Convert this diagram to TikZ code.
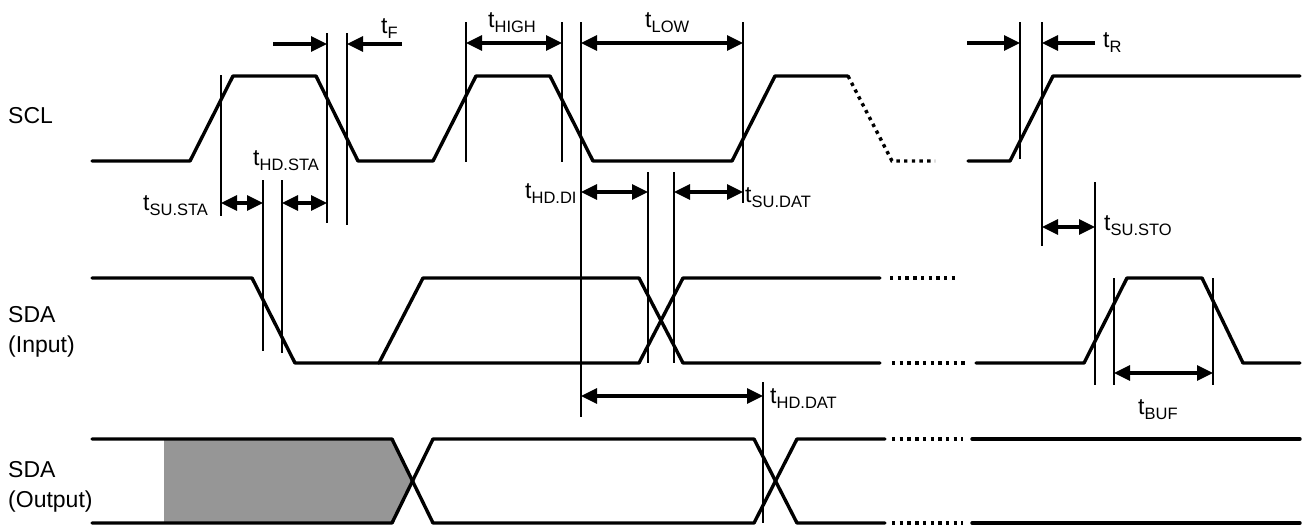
\documentclass[tikz,border=0pt]{standalone}
\usepackage{fontspec}
\setmainfont{Liberation Sans}
\usetikzlibrary{arrows.meta}
\definecolor{busgray}{RGB}{150,150,150}
\newcommand{\tsub}[1]{t\raisebox{-5pt}{\fontsize{16.5}{16.5}\selectfont #1}}

\begin{document}
\begin{tikzpicture}[x=1pt,y=-1pt,>={Triangle[length=16pt,width=15pt]},
  sig/.style={line width=3.4pt,line cap=round,line join=round},
  dots/.style={line width=3.4pt,dash pattern=on 3.4pt off 4.3pt},
  guide/.style={line width=1.3pt},
  dim/.style={line width=3.2pt},
  every node/.style={font=\fontsize{23}{30}\selectfont,inner sep=0pt,anchor=base west},]
\useasboundingbox (0,0) rectangle (1306,525);

% signal names
\node (scl) at (8,123) {SCL};
\node (sdai) at (8,322) {SDA};
\node (sdaii) at (8,352) {(Input)};
\node (sdao) at (8,477) {SDA};
\node (sdaoo) at (8,507) {(Output)};

% SCL
\draw[sig] (92,161) -- (190,161) -- (233,76) -- (316,76) -- (358,161) -- (433,161) -- (476,76) -- (550,76) -- (593,161) -- (732,161) -- (775,76) -- (848,76);
\draw[dots] (848,76) -- (892,161) -- (935,161);
\draw[sig] (968,161) -- (1010,161) -- (1053,76) -- (1300,76);

% SDA (Input)
\draw[sig] (92,278) -- (252,278) -- (295,363) -- (639,363) -- (683,278) -- (880,278);
\draw[sig] (379,363) -- (423,278) -- (639,278) -- (683,363) -- (880,363);
\draw[dots] (890,278) -- (957,278);
\draw[dots] (892,363) -- (968,363);
\draw[sig] (976,363) -- (1084,363) -- (1127,278) -- (1202,278) -- (1243,363) -- (1300,363);

% SDA (Output)
\fill[busgray] (164,439) -- (392,439) -- (412,481) -- (392,523) -- (164,523) -- cycle;
\draw[sig] (92,439) -- (392,439) -- (433,523) -- (754,523) -- (797,439) -- (885,439);
\draw[sig] (92,523) -- (392,523) -- (433,439) -- (754,439) -- (797,523) -- (885,523);
\draw[dots] (892,439) -- (963,439);
\draw[dots] (892,523) -- (963,523);
\draw[sig] (972,439) -- (1300,439);
\draw[sig] (972,523) -- (1300,523);

% guide lines
\foreach \x/\a/\b in {221/75/216, 263/180/351, 282/180/353, 327/33/223, 347/33/225,
  466/22/162, 562/22/162, 581/22/417, 743/22/203, 648/172/363, 674/172/363,
  1020/22/159, 1042/22/246, 1095/182/385, 1114/278/385, 1213/278/385, 763/382/523}
  \draw[guide] (\x,\a) -- (\x,\b);

% timing arrows
\draw[dim,->] (273,44) -- (327,44);
\draw[dim,->] (402,44) -- (347,44);
\draw[dim,->] (967,43) -- (1020,43);
\draw[dim,->] (1095,43) -- (1042,43);
\foreach \a/\b/\y in {466/562/43, 581/743/43, 221/263/203, 282/327/203, 581/648/192,
  674/743/192, 1042/1095/227, 581/763/396, 1114/1213/373}
  \draw[dim,<->] (\a,\y) -- (\b,\y);

% timing labels
\node (tf) at (381,33) {\tsub{F}};
\node (thigh) at (488,27) {\tsub{HIGH}};
\node (tlow) at (645,27) {\tsub{LOW}};
\node (tr) at (1103,47) {\tsub{R}};
\node (thdsta) at (253,165) {\tsub{HD.STA}};
\node (tsusta) at (143,210) {\tsub{SU.STA}};
\node (thddi) at (525,198) {\tsub{HD.DI}};
\node (tsudat) at (745,202) {\tsub{SU.DAT}};
\node (tsusto) at (1104,230) {\tsub{SU.STO}};
\node (thddat) at (770,403) {\tsub{HD.DAT}};
\node (tbuf) at (1138,414) {\tsub{BUF}};
\end{tikzpicture}
\end{document}
